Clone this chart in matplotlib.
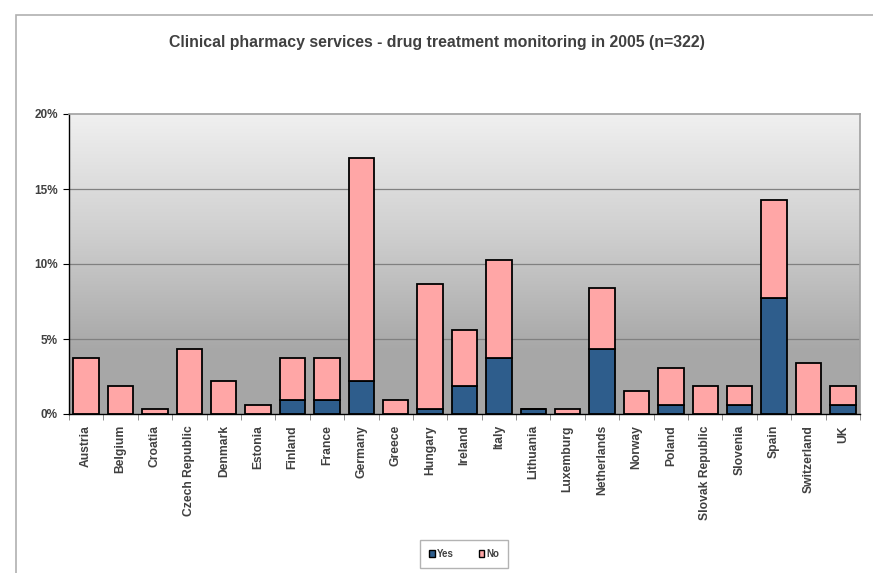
import numpy as np
import matplotlib.pyplot as plt
from matplotlib.patches import Rectangle, Patch
from matplotlib.colors import LinearSegmentedColormap

plt.rcParams['font.family'] = ['Liberation Sans', 'DejaVu Sans']

countries = ['Austria', 'Belgium', 'Croatia', 'Czech Republic', 'Denmark', 'Estonia',
             'Finland', 'France', 'Germany', 'Greece', 'Hungary', 'Ireland', 'Italy',
             'Lithuania', 'Luxemburg', 'Netherlands', 'Norway', 'Poland',
             'Slovak Republic', 'Slovenia', 'Spain', 'Switzerland', 'UK']
# percentages of n=322
yes = [0.0, 0.0, 0.0, 0.0, 0.0, 0.0, 0.93, 0.93, 2.17, 0.0, 0.31, 1.86, 3.73,
       0.31, 0.0, 4.35, 0.0, 0.62, 0.0, 0.62, 7.76, 0.0, 0.62]
no = [3.73, 1.86, 0.31, 4.35, 2.17, 0.62, 2.80, 2.80, 14.91, 0.93, 8.39, 3.73, 6.52,
      0.0, 0.31, 4.04, 1.55, 2.48, 1.86, 1.24, 6.52, 3.42, 1.24]
yticks = [0, 5, 10, 15, 20]

col_yes = '#2e5d8c'
col_no = '#ffa6a6'
txt = '#404040'

fig = plt.figure(figsize=(8.73, 5.73), dpi=100)

# outer chart frame
fig.patches.append(Rectangle((16 / 873, -0.1), 1.2, 1.1 - 14.5 / 573, transform=fig.transFigure,
                             fill=False, edgecolor='#b0b0b0', linewidth=1.2))

ax = fig.add_axes([69 / 873, 1 - 414 / 573, (860 - 69) / 873, 300 / 573])

x = np.arange(len(countries))
ax.set_xlim(-0.5, len(countries) - 0.5)
ax.set_ylim(0, 20)

# gradient background: dark gray at bottom, light gray at top
bg = LinearSegmentedColormap.from_list('bg', [(0, '#a6a6a6'), (0.22, '#a8a8a8'),
                                              (0.6, '#cfcfcf'), (1, '#f0f0f0')])
grad = np.linspace(0, 1, 256).reshape(-1, 1)
ax.imshow(grad, aspect='auto', cmap=bg, extent=[-0.5, len(countries) - 0.5, 0, 20],
          origin='lower', zorder=0)
for y in yticks[1:-1]:
    ax.axhline(y, color='#808080', linewidth=0.9, zorder=1)

ax.bar(x, yes, width=0.74, color=col_yes, edgecolor='black', linewidth=1.3, zorder=2)
ax.bar(x, no, width=0.74, bottom=yes, color=col_no, edgecolor='black', linewidth=1.3, zorder=2)

ax.set_yticks(yticks)
ax.set_yticklabels([f'{v}%' for v in yticks], fontsize=8.5, fontweight='bold', color=txt)
ax.set_xticks(x)
ax.set_xticklabels(countries, rotation=90, fontsize=8.7, fontweight='bold', color=txt)
ax.set_xticks(np.arange(-0.5, len(countries)), minor=True)
ax.tick_params(axis='x', which='major', length=0, pad=8)
ax.tick_params(axis='x', which='minor', length=4, color='#808080')
ax.tick_params(axis='y', length=4, color='black', pad=4)

for s in ['top', 'right']:
    ax.spines[s].set_color('#a0a0a0')
    ax.spines[s].set_linewidth(1.2)
for s in ['left', 'bottom']:
    ax.spines[s].set_color('black')
    ax.spines[s].set_linewidth(1.0)

fig.text(0.5, 1 - 43 / 573, 'Clinical pharmacy services - drug treatment monitoring in 2005 (n=322)',
         ha='center', va='center', fontsize=11.4, fontweight='bold', color=txt)

handles = [Patch(facecolor=col_yes, edgecolor='black', label='Yes'),
           Patch(facecolor=col_no, edgecolor='black', label='No')]
leg = fig.legend(handles=handles, loc='center', bbox_to_anchor=(464 / 873, 1 - 554 / 573),
                 ncol=2, frameon=True, fancybox=False,
                 prop={'weight': 'bold', 'size': 7}, handlelength=0.6, handleheight=0.6,
                 handletextpad=0.2, columnspacing=2.6, borderpad=0.9, borderaxespad=0)
leg.get_frame().set_edgecolor('#a0a0a0')
leg.get_frame().set_linewidth(1.0)
for t in leg.get_texts():
    t.set_color(txt)

fig.savefig('out.png', dpi=100)
